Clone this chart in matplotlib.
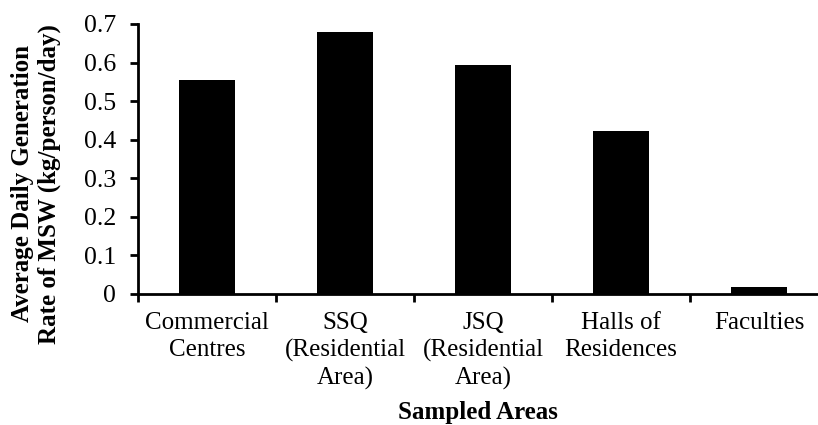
import numpy as np
import matplotlib.pyplot as plt

# average daily MSW generation per sampled area
areas = ['Commercial\nCentres', 'SSQ\n(Residential\nArea)', 'JSQ\n(Residential\nArea)',
         'Halls of\nResidences', 'Faculties']
rates = [0.555, 0.680, 0.595, 0.423, 0.018]
yticks = [0, 0.1, 0.2, 0.3, 0.4, 0.5, 0.6, 0.7]

plt.rcParams['font.family'] = ['Liberation Serif', 'DejaVu Serif']

fig = plt.figure(figsize=(8.18, 4.25), dpi=100)
W, H = 818, 425
# axes spans beyond the right edge like the original (cropped)
ax = fig.add_axes([138 / W, 1 - 294 / H, (828 - 138) / W, (294 - 24) / H])

x = np.arange(len(areas))
ax.bar(x, rates, width=0.41, color='black')

ax.set_xlim(-0.5, len(areas) - 0.5)
ax.set_ylim(0, 0.7)
ax.set_yticks(yticks)
ax.set_yticklabels([f'{v:g}' for v in yticks], fontsize=18.5)

# boundary ticks on the x axis, labels at category centres
ax.set_xticks(np.arange(len(areas) + 1) - 0.5)
ax.set_xticklabels([])
ax.set_xticks(x, minor=True)
ax.set_xticklabels(areas, minor=True, fontsize=18, linespacing=1.27, va='top')
ax.tick_params(axis='x', which='minor', length=0, pad=13)
ax.tick_params(axis='x', which='major', length=6, width=2, direction='out')
ax.tick_params(axis='y', length=6, width=2, direction='out', pad=10)

for s in ['top', 'right']:
    ax.spines[s].set_visible(False)
for s in ['left', 'bottom']:
    ax.spines[s].set_linewidth(2)

fig.text(36 / W, 1 - 184 / H, 'Average Daily Generation\nRate of MSW (kg/person/day)',
         rotation=90, ha='center', va='center', fontsize=18, fontweight='bold',
         linespacing=1.25)
fig.text(478 / W, 1 - 413 / H, 'Sampled Areas', ha='center', va='center',
         fontsize=18, fontweight='bold')

fig.savefig('out.png', dpi=100)
